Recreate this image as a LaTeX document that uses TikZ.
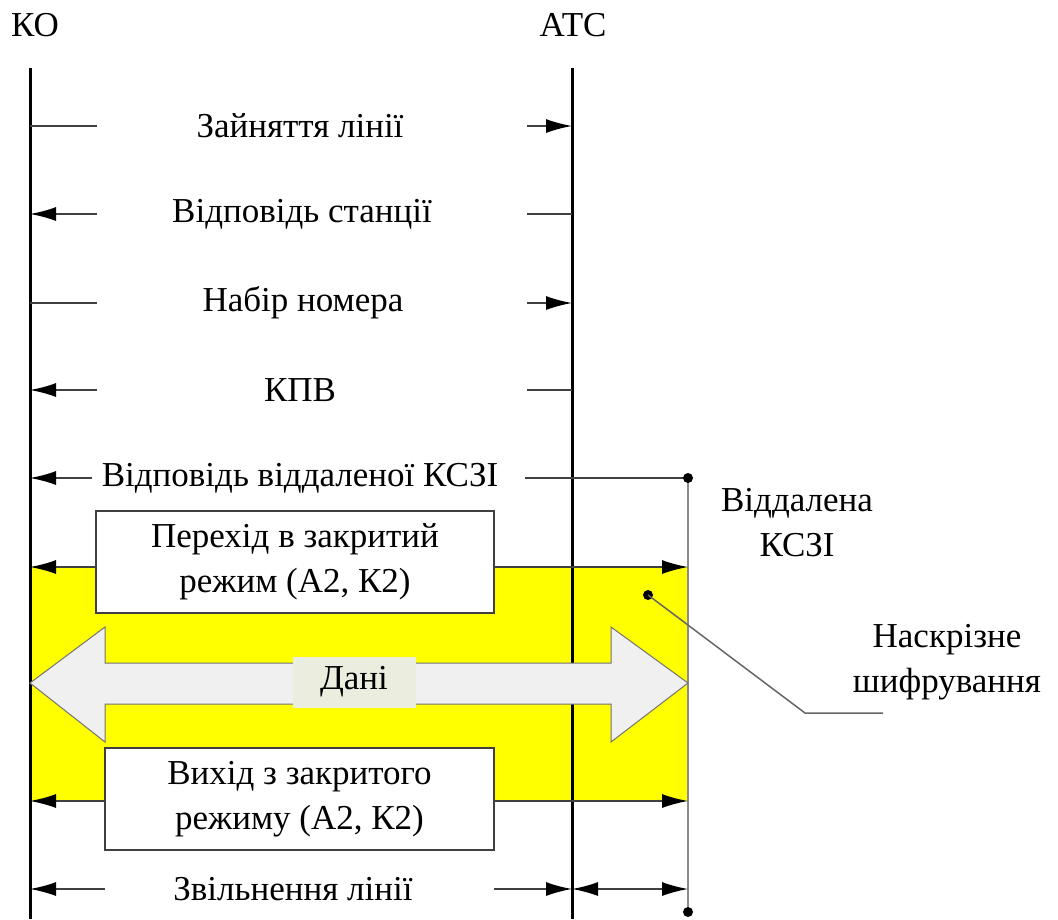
\documentclass[tikz,border=0pt]{standalone}
\usepackage{fontspec}
\setmainfont{Liberation Serif}
\usetikzlibrary{arrows.meta}
\definecolor{cryptyellow}{RGB}{255,255,0}
\definecolor{datagray}{RGB}{240,240,240}
\definecolor{datalabel}{RGB}{235,238,223}
\tikzset{
  >={Latex[length=26pt,width=14pt,color=black]},
  lifeline/.style={line width=3pt},
  seg/.style={line width=1.5pt,draw=black!75},
  kszi/.style={line width=2pt,draw=black!45},
  modebox/.style={draw=black!75,line width=1.5pt,fill=white,minimum width=398pt,
    minimum height=102pt,align=center,inner sep=0pt},
  blackdot/.style={circle,fill=black,inner sep=0pt,minimum size=10pt},
  msgtext/.style={inner sep=0pt}
}
\begin{document}
\begin{tikzpicture}[x=1pt,y=-1pt,font=\fontsize{35}{45}\selectfont]
\useasboundingbox (0,0) rectangle (1058,919);

% encrypted area
\fill[cryptyellow] (30,567) rectangle (688,801);

% lifelines
\node[msgtext] (ko) at (35,25) {КО};
\node[msgtext] (atc) at (573,25) {АТС};
\coordinate (ko top) at (30,68);
\coordinate (ko end) at (30,919);
\coordinate (atc top) at (572,68);
\coordinate (atc end) at (572,919);
\coordinate (kszi top) at (688,478);
\coordinate (kszi end) at (688,912);
\draw[lifeline] (ko top) -- (ko end);
\draw[lifeline] (atc top) -- (atc end);
\draw[kszi] (kszi top) -- (kszi end);

% data arrow
\draw[fill=datagray,draw=black!55,line width=1pt]
  (30,683) -- (105,627) -- (105,663) -- (611,663) -- (611,627) -- (688,683)
  -- (611,742) -- (611,704) -- (105,704) -- (105,742) -- cycle;
\node[fill=datalabel,minimum width=123pt,minimum height=51pt,inner sep=0pt] (data) at (354,682) {Дані};

% mode switching
\coordinate (on l) at (30,567);
\coordinate (on r) at (688,567);
\draw[seg,<->] (on l) -- (on r);
\node[modebox] (on) at (295,562) {Перехід в закритий\\режим (А2, К2)};
\coordinate (off l) at (30,801);
\coordinate (off r) at (688,801);
\draw[seg,<->] (off l) -- (off r);
\node[modebox,minimum width=389pt] (off) at (299.5,799) {Вихід з закритого\\режиму (А2, К2)};

% signalling
\node[msgtext] (seize) at (300,126) {Зайняття лінії};
\coordinate (seize l) at (97,126);
\coordinate (seize r) at (527,126);
\draw[seg] (seize -| ko top) -- (seize l);
\draw[seg,->] (seize r) -- (seize -| atc top);

\node[msgtext] (reply) at (302,214) {Відповідь станції};
\coordinate (reply l) at (97,214);
\coordinate (reply r) at (527,214);
\draw[seg,->] (reply l) -- (reply -| ko top);
\draw[seg] (reply r) -- (reply -| atc top);

\node[msgtext] (dial) at (303,303) {Набір номера};
\coordinate (dial l) at (97,303);
\coordinate (dial r) at (527,303);
\draw[seg] (dial -| ko top) -- (dial l);
\draw[seg,->] (dial r) -- (dial -| atc top);

\node[msgtext] (kpv) at (300,390) {КПВ};
\coordinate (kpv l) at (97,390);
\coordinate (kpv r) at (527,390);
\draw[seg,->] (kpv l) -- (kpv -| ko top);
\draw[seg] (kpv r) -- (kpv -| atc top);

\node[msgtext] (remote) at (300,478) {Відповідь віддаленої КСЗІ};
\coordinate (remote l) at (92,478);
\coordinate (remote r) at (525,478);
\draw[seg,->] (remote l) -- (remote -| ko top);
\draw[seg] (remote r) -- (kszi top);

\node[msgtext] (release) at (293,889) {Звільнення лінії};
\coordinate (release l) at (105,889);
\coordinate (release r) at (494,889);
\draw[seg,->] (release l) -- (release -| ko top);
\draw[seg,->] (release r) -- (release -| atc top);
\draw[seg,<->] (release -| atc top) -- (release -| kszi top);

% remote KSZI
\node[blackdot] (kszi dot a) at (kszi top) {};
\node[blackdot] (kszi dot b) at (kszi end) {};
\node[msgtext,align=center] (kszi) at (797,523) {Віддалена\\КСЗІ};

% end-to-end encryption
\node[blackdot] (enc dot) at (648,595) {};
\coordinate (enc bend) at (805,713);
\coordinate (enc end) at (883,713);
\draw[line width=1.5pt,draw=black!60] (enc dot.center) -- (enc bend) -- (enc end);
\node[msgtext,align=center] (enc) at (947,662) {Наскрізне\\шифрування};
\end{tikzpicture}
\end{document}
